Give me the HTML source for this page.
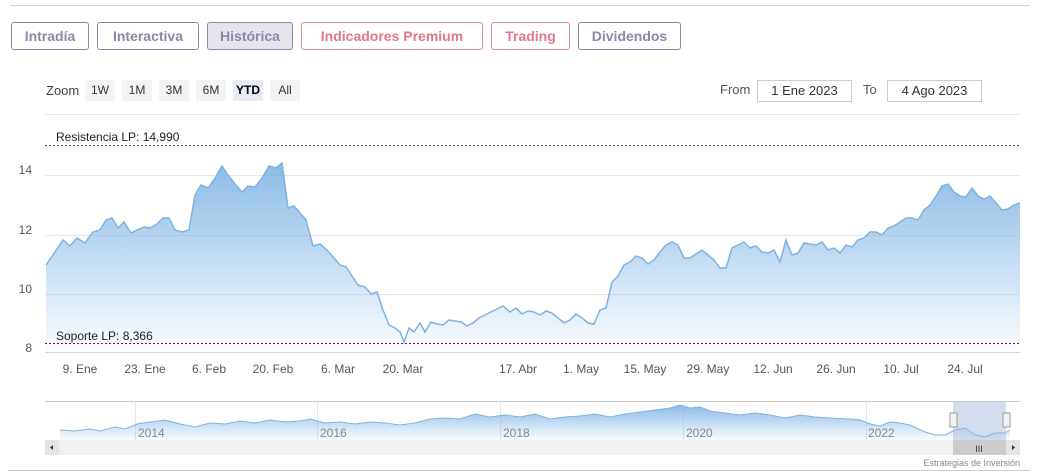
<!DOCTYPE html>
<html><head><meta charset="utf-8"><style>
body{margin:0;width:1040px;height:475px;background:#fff;font-family:"Liberation Sans",sans-serif;overflow:hidden;position:relative}
.t{position:absolute;top:22px;height:28px;border:1px solid;border-radius:3px;box-sizing:border-box;font-size:14px;font-weight:bold;line-height:26px;text-align:center}
.p{border-color:#8c87a8;color:#8c87a8}.r{border-color:#e08a98;color:#e0788a}
.z{position:absolute;top:80px;height:21px;background:#f3f3f3;font-size:12px;line-height:21px;text-align:center;color:#333}
.in{position:absolute;top:80px;height:22px;border:1px solid #ccc;box-sizing:border-box;font-size:13px;line-height:20px;text-align:center;color:#333}
</style></head><body>
<div style="position:absolute;left:10px;right:10px;top:5px;border-top:1px solid #d5d5e0"></div>
<div class="t p" style="left:11px;width:78px">Intradía</div>
<div class="t p" style="left:97px;width:102px">Interactiva</div>
<div class="t p" style="left:207px;width:86px;background:#e4e4ec">Histórica</div>
<div class="t r" style="left:301px;width:182px">Indicadores Premium</div>
<div class="t r" style="left:491px;width:79px">Trading</div>
<div class="t p" style="left:578px;width:103px">Dividendos</div>
<div style="position:absolute;left:46px;top:83px;font-size:13px;color:#444">Zoom</div>
<div class="z" style="left:85px;width:30px">1W</div>
<div class="z" style="left:122px;width:30px">1M</div>
<div class="z" style="left:159px;width:30px">3M</div>
<div class="z" style="left:196px;width:30px">6M</div>
<div class="z" style="left:233px;width:30px;background:#e6ebf5;font-weight:bold;color:#000">YTD</div>
<div class="z" style="left:270px;width:30px">All</div>
<div style="position:absolute;left:720px;top:82px;font-size:13px;color:#555">From</div>
<div class="in" style="left:757px;width:95px">1 Ene 2023</div>
<div style="position:absolute;left:863px;top:82px;font-size:13px;color:#555">To</div>
<div class="in" style="left:887px;width:95px">4 Ago 2023</div>
<svg width="1040" height="475" style="position:absolute;left:0;top:0">
<defs><linearGradient id="g" x1="0" y1="0" x2="0" y2="1"><stop offset="0" stop-color="#7db3e3" stop-opacity="0.9"/><stop offset="1" stop-color="#7db3e3" stop-opacity="0.03"/></linearGradient></defs>
<g stroke="#e6e6e6" stroke-width="1">
<line x1="45" y1="114.5" x2="1020" y2="114.5"/><line x1="45" y1="175.5" x2="1020" y2="175.5"/><line x1="45" y1="235.5" x2="1020" y2="235.5"/><line x1="45" y1="294.5" x2="1020" y2="294.5"/></g>
<path id="d" fill="url(#g)" d="M46,265 L55,252 63,240 70,246 77,238 85,243 93,232 100,230 106,220 112,218 118,228 124,222 131,233 137,230 144,227 150,228 157,224 163,218 169,218 175,230 182,232 189,230 195,195 201,185 208,188 215,178 222,166 228,175 235,184 242,192 248,186 255,187 262,178 269,166 276,168 282,163 288,208 294,206 300,213 306,220 313,246 320,244 327,250 334,258 340,265 346,267 352,276 358,285 365,287 371,294 377,292 383,310 389,325 395,328 400,332 404,342 409,328 414,332 420,323 425,332 431,322 437,324 443,325 449,320 455,321 461,322 467,326 473,323 479,318 485,315 491,312 497,309 503,306 510,312 516,308 522,314 528,311 534,312 540,315 546,311 552,313 558,318 564,323 570,320 576,314 582,318 588,323 594,324 600,310 606,308 612,282 618,276 624,265 630,262 636,256 642,258 648,264 654,260 660,252 666,245 672,242 678,245 684,258 690,258 696,254 702,250 708,255 714,260 720,268 726,268 732,248 738,245 744,242 750,248 756,246 762,252 768,253 774,250 780,262 786,240 792,255 798,253 804,243 810,244 816,245 822,242 828,250 834,248 840,253 846,245 852,247 858,240 864,238 870,232 876,232 882,235 888,228 894,226 900,222 906,218 912,218 918,220 924,210 930,205 936,196 942,186 948,184 954,192 960,196 966,197 972,188 978,196 984,199 990,196 996,203 1002,210 1008,209 1014,205 1020,203 L1020,352 L46,352 Z"/>
<path fill="none" stroke="#7db3e3" stroke-width="1.5" d="M46,265 L55,252 63,240 70,246 77,238 85,243 93,232 100,230 106,220 112,218 118,228 124,222 131,233 137,230 144,227 150,228 157,224 163,218 169,218 175,230 182,232 189,230 195,195 201,185 208,188 215,178 222,166 228,175 235,184 242,192 248,186 255,187 262,178 269,166 276,168 282,163 288,208 294,206 300,213 306,220 313,246 320,244 327,250 334,258 340,265 346,267 352,276 358,285 365,287 371,294 377,292 383,310 389,325 395,328 400,332 404,342 409,328 414,332 420,323 425,332 431,322 437,324 443,325 449,320 455,321 461,322 467,326 473,323 479,318 485,315 491,312 497,309 503,306 510,312 516,308 522,314 528,311 534,312 540,315 546,311 552,313 558,318 564,323 570,320 576,314 582,318 588,323 594,324 600,310 606,308 612,282 618,276 624,265 630,262 636,256 642,258 648,264 654,260 660,252 666,245 672,242 678,245 684,258 690,258 696,254 702,250 708,255 714,260 720,268 726,268 732,248 738,245 744,242 750,248 756,246 762,252 768,253 774,250 780,262 786,240 792,255 798,253 804,243 810,244 816,245 822,242 828,250 834,248 840,253 846,245 852,247 858,240 864,238 870,232 876,232 882,235 888,228 894,226 900,222 906,218 912,218 918,220 924,210 930,205 936,196 942,186 948,184 954,192 960,196 966,197 972,188 978,196 984,199 990,196 996,203 1002,210 1008,209 1014,205 1020,203"/>
<line x1="45" y1="145.5" x2="1020" y2="145.5" stroke="#2a6a2a" stroke-dasharray="2,2"/>
<line x1="45" y1="343.5" x2="1020" y2="343.5" stroke="#7a1a1a" stroke-dasharray="2,2"/>
<line x1="45" y1="352.5" x2="1020" y2="352.5" stroke="#ccd6eb"/>
<g font-size="12" fill="#222"><text x="56" y="141">Resistencia LP: 14,990</text><text x="56" y="340">Soporte LP: 8,366</text></g>
<g font-size="12" fill="#555" text-anchor="end"><text x="32" y="174">14</text><text x="32" y="234">12</text><text x="32" y="293">10</text><text x="32" y="352">8</text></g>
<g font-size="12" fill="#555" text-anchor="middle"><text x="80" y="373">9. Ene</text><text x="145" y="373">23. Ene</text><text x="209" y="373">6. Feb</text><text x="273" y="373">20. Feb</text><text x="338" y="373">6. Mar</text><text x="403" y="373">20. Mar</text><text x="518" y="373">17. Abr</text><text x="581" y="373">1. May</text><text x="645" y="373">15. May</text><text x="708" y="373">29. May</text><text x="773" y="373">12. Jun</text><text x="836" y="373">26. Jun</text><text x="901" y="373">10. Jul</text><text x="965" y="373">24. Jul</text></g>
<line x1="45" y1="401.5" x2="1020" y2="401.5" stroke="#ccc"/>
<g stroke="#e6e6e6"><line x1="135.5" y1="402" x2="135.5" y2="440"/><line x1="317.5" y1="402" x2="317.5" y2="440"/><line x1="500.5" y1="402" x2="500.5" y2="440"/><line x1="683.5" y1="402" x2="683.5" y2="440"/><line x1="866.5" y1="402" x2="866.5" y2="440"/></g>
<path fill="url(#g)" d="M60,430 L75,431 90,429 100,431 115,427 125,429 137,424 150,422 165,420 180,424 195,427 210,423 225,424 240,421 255,423 270,420 285,422 300,421 310,419 325,423 340,422 355,424 370,422 385,423 400,425 415,423 430,419 445,418 460,419 475,414 490,417 505,415 520,417 535,414 550,419 565,417 580,416 595,414 610,417 625,414 640,412 655,410 670,408 680,405 690,408 700,407 710,411 725,413 740,415 755,413 770,415 785,418 800,415 815,417 830,418 850,419 860,420 870,424 880,426 890,422 900,423 910,425 925,432 935,435 945,435 955,430 965,428 975,435 985,437 995,433 1005,433 1010,430 L1010,440 L60,440 Z"/>
<path fill="none" stroke="#7db3e3" d="M60,430 L75,431 90,429 100,431 115,427 125,429 137,424 150,422 165,420 180,424 195,427 210,423 225,424 240,421 255,423 270,420 285,422 300,421 310,419 325,423 340,422 355,424 370,422 385,423 400,425 415,423 430,419 445,418 460,419 475,414 490,417 505,415 520,417 535,414 550,419 565,417 580,416 595,414 610,417 625,414 640,412 655,410 670,408 680,405 690,408 700,407 710,411 725,413 740,415 755,413 770,415 785,418 800,415 815,417 830,418 850,419 860,420 870,424 880,426 890,422 900,423 910,425 925,432 935,435 945,435 955,430 965,428 975,435 985,437 995,433 1005,433 1010,430"/>
<g font-size="12" fill="#888"><text x="138" y="437">2014</text><text x="320" y="437">2016</text><text x="503" y="437">2018</text><text x="686" y="437">2020</text><text x="868" y="437">2022</text></g>
<rect x="953" y="402" width="53" height="38" fill="#9db3d8" fill-opacity="0.45"/>
<rect x="45" y="440" width="975" height="15" fill="#f0f0f0"/>
<rect x="45" y="440" width="14" height="15" fill="#e4e4e4"/>
<rect x="1006" y="440" width="14" height="15" fill="#e4e4e4"/>
<rect x="953" y="440" width="53" height="15" fill="#ccc"/>
<text x="979" y="452" font-size="9" fill="#333" text-anchor="middle">III</text>
<path d="M53,445 l-3,2.5 3,2.5z M1012,445 l3,2.5 -3,2.5z" fill="#333"/>
<rect x="950" y="413" width="7" height="14" fill="#f2f2f2" stroke="#999"/>
<rect x="1003" y="413" width="7" height="14" fill="#f2f2f2" stroke="#999"/>
<text x="1020" y="466" font-size="9" fill="#888" text-anchor="end">Estrategias de Inversión</text>
<line x1="8" y1="470.5" x2="1030" y2="470.5" stroke="#ccc"/>
</svg>
</body></html>
